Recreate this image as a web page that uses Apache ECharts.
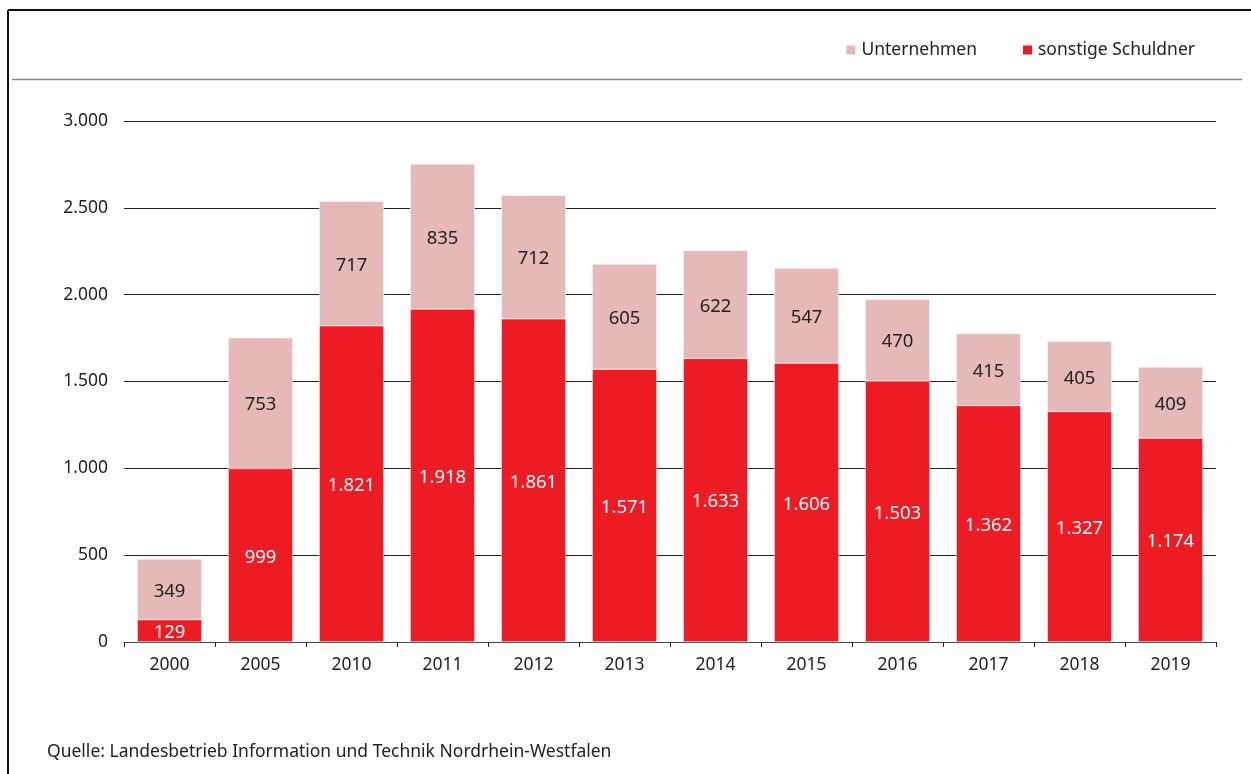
<!DOCTYPE html>
<html>
<head>
<meta charset="utf-8">
<script src="https://cdn.jsdelivr.net/npm/echarts@6/dist/echarts.min.js"></script>
<style>
  html, body { margin: 0; padding: 0; background: #fff; }
  #chart { width: 1251px; height: 774px; }
</style>
</head>
<body>
<div id="chart"></div>
<script>
// Daten
var years = ['2000', '2005', '2010', '2011', '2012', '2013', '2014', '2015', '2016', '2017', '2018', '2019'];
var sonstige = [129, 999, 1821, 1918, 1861, 1571, 1633, 1606, 1503, 1362, 1327, 1174];
var unternehmen = [349, 753, 717, 835, 712, 605, 622, 547, 470, 415, 405, 409];
var yTicks = [0, 500, 1000, 1500, 2000, 2500, 3000];

var FONT = 'Noto Sans';

function fmt(v) {
  return String(v).replace(/\B(?=(\d{3})+(?!\d))/g, '.');
}

var myChart = echarts.init(document.getElementById('chart'));

var option = {
  animation: false,
  textStyle: { fontFamily: FONT },
  legend: {
    data: ['Unternehmen', 'sonstige Schuldner'],
    right: 51,
    top: 36,
    icon: 'rect',
    itemWidth: 11,
    itemHeight: 11,
    itemGap: 44,
    textStyle: { fontFamily: FONT, fontSize: 17.5, color: '#222' }
  },
  grid: { left: 124, right: 35, top: 121, bottom: 132 },
  xAxis: {
    type: 'category',
    data: years,
    axisLine: { lineStyle: { color: '#444', width: 1 } },
    axisTick: { show: true, length: 5, lineStyle: { color: '#222' } },
    axisLabel: { fontFamily: FONT, fontSize: 17.5, color: '#222', margin: 14 }
  },
  yAxis: {
    type: 'value',
    min: yTicks[0],
    max: yTicks[yTicks.length - 1],
    interval: 500,
    axisLine: { show: false },
    axisTick: { show: false },
    axisLabel: {
      fontFamily: FONT, fontSize: 17.5, color: '#222', margin: 16,
      formatter: function (v) { return fmt(v); }
    },
    splitLine: { lineStyle: { color: '#222', width: 1 } }
  },
  series: [
    {
      name: 'sonstige Schuldner',
      type: 'bar',
      stack: 'a',
      data: sonstige,
      barWidth: '71%',
      itemStyle: { color: '#ED1C24', borderColor: '#fff', borderWidth: 0.5 },
      label: {
        show: true, position: 'inside', color: '#fff',
        fontFamily: FONT, fontSize: 18.5, offset: [0, 2],
        formatter: function (p) { return fmt(p.value); }
      }
    },
    {
      name: 'Unternehmen',
      type: 'bar',
      stack: 'a',
      data: unternehmen,
      barWidth: '71%',
      itemStyle: { color: '#E6B9B9', borderColor: '#fff', borderWidth: 0.5 },
      label: {
        show: true, position: 'inside', color: '#222',
        fontFamily: FONT, fontSize: 18.5, offset: [0, 2],
        formatter: function (p) { return fmt(p.value); }
      }
    }
  ],
  graphic: [
    // Rahmen oben und links
    { type: 'line', shape: { x1: 8, y1: 10, x2: 1251, y2: 10 }, style: { stroke: '#111', lineWidth: 2 } },
    { type: 'line', shape: { x1: 8, y1: 10, x2: 8, y2: 774 }, style: { stroke: '#111', lineWidth: 2 } },
    // Trennlinie unter der Legende
    { type: 'line', shape: { x1: 12, y1: 79.5, x2: 1242, y2: 79.5 }, style: { stroke: '#888', lineWidth: 1.5 } },
    {
      type: 'text', left: 47, top: 743,
      style: { text: 'Quelle: Landesbetrieb Information und Technik Nordrhein-Westfalen', fontFamily: FONT, fontSize: 17.5, fill: '#222' }
    }
  ]
};

window.onresize = myChart.resize;
myChart.setOption(option);
</script>
</body>
</html>
